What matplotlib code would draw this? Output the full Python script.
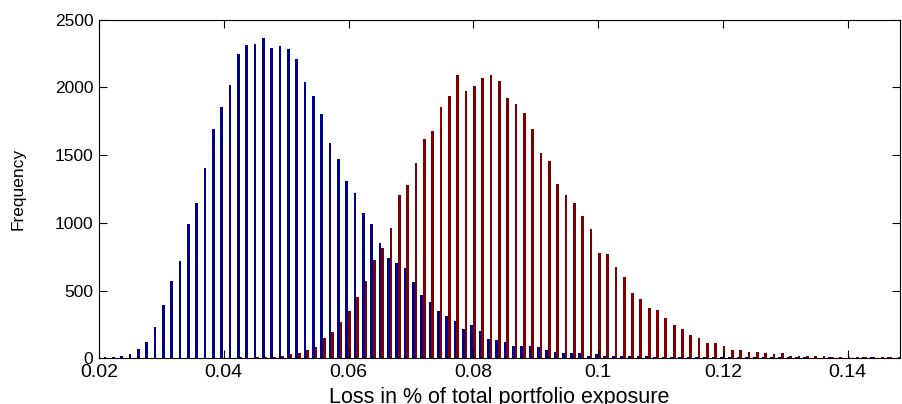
import numpy as np
import matplotlib
matplotlib.use("Agg")
import matplotlib.pyplot as plt

# Histogram bin layout (loss fraction)
bin_start = 0.0212
bin_width = 0.001335
n_bins = 96

# Frequencies (series 1: blue, series 2: dark red)
freq_blue = [
    10, 10, 20, 32, 71, 120, 234, 391, 573, 718, 994, 1149, 1405, 1692,
    1855, 2017, 2243, 2315, 2322, 2364, 2293, 2305, 2283, 2212, 2039, 1936, 1803,
    1587, 1471, 1309, 1218, 1073, 991, 849, 738, 706, 664, 561, 467, 418, 349,
    315, 273, 216, 246, 202, 140, 133, 118, 89, 89, 89, 81, 59, 49,
    39, 39, 39, 20, 30, 20, 20, 20, 20, 20, 20, 10, 10, 10,
    10, 10, 10, 10, 10, 10, 10, 10, 10, 10, 10, 10, 10, 10, 10, 10,
    5, 5, 10, 5, 5, 5, 10, 10, 5, 10, 5,
]
freq_red = [
    0, 0, 0, 0, 1, 1, 2, 2, 2, 3, 3, 3, 4, 4,
    3, 3, 10, 5, 10, 10, 10, 20, 32, 39, 62, 84, 153,
    194, 268, 349, 453, 571, 726, 817, 959, 1205, 1279, 1442, 1616, 1678, 1852,
    1934, 2089, 1976, 2007, 2066, 2089, 2047, 1924, 1875, 1811, 1692, 1513, 1454, 1289,
    1205, 1146, 1053, 952, 775, 768, 674, 603, 480, 438, 369, 354, 295, 246,
    216, 175, 152, 113, 113, 91, 62, 62, 49, 49, 39, 32, 39,
    20, 20, 17, 17, 17, 10, 10, 10, 10, 10, 10, 10, 10, 10,
]

x_ticks = [0.02, 0.04, 0.06, 0.08, 0.1, 0.12, 0.14]
x_tick_labels = ["0.02", "0.04", "0.06", "0.08", "0.1", "0.12", "0.14"]
y_ticks = [0, 500, 1000, 1500, 2000, 2500]
y_tick_labels = ["0", "500", "1000", "1500", "2000", "2500"]
x_label = "Loss in % of total portfolio exposure"
y_label = "Frequency"

centers = bin_start + bin_width * np.arange(n_bins)

plt.rcParams['font.family'] = ['Liberation Sans', 'DejaVu Sans']

fig = plt.figure(figsize=(9.02, 4.04), dpi=100)
ax = fig.add_axes([99 / 902, (404 - 358.3) / 404, 801 / 902, (358.3 - 19.5) / 404])

bw = 0.000433
ax.bar(centers - bw / 2, freq_blue, width=bw, color='#00008F', linewidth=0)
ax.bar(centers + bw / 2, freq_red, width=bw, color='#800000', linewidth=0)

ax.set_xlim(0.02, 0.1484)
ax.set_ylim(0, 2500)
ax.set_xticks(x_ticks)
ax.set_xticklabels(x_tick_labels)
ax.set_yticks(y_ticks)
ax.set_yticklabels(y_tick_labels)

ax.tick_params(direction='in', length=5.5, width=0.8, top=True, right=True)
ax.tick_params(axis='x', labelsize=14, pad=4)
ax.tick_params(axis='y', labelsize=12.5, pad=4)
for s in ax.spines.values():
    s.set_linewidth(0.8)
    s.set_color('black')

ax.set_xlabel(x_label, fontsize=15.5, labelpad=4.5)
ax.set_ylabel(y_label, fontsize=12.5, labelpad=21)

fig.savefig("out.png", dpi=100)
